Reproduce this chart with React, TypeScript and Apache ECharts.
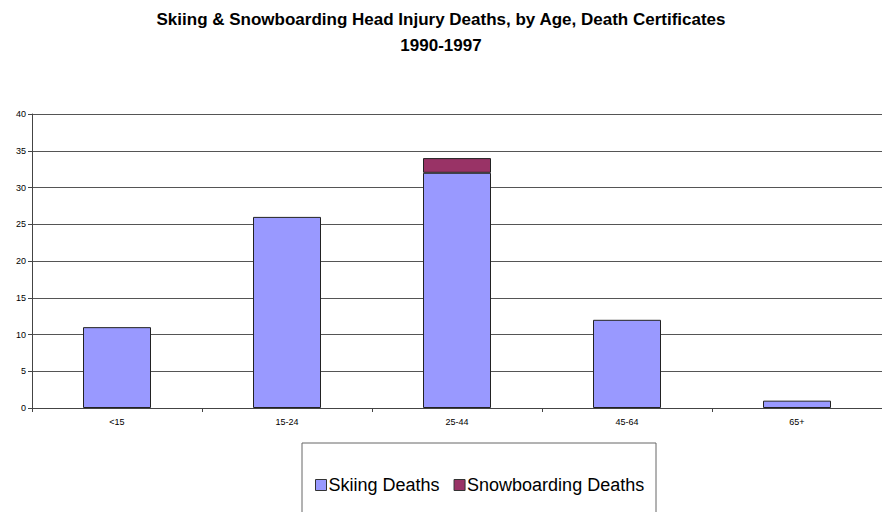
import React, { useEffect, useRef } from "react";
import * as echarts from "echarts";

const categories = ["<15", "15-24", "25-44", "45-64", "65+"];
const skiingDeaths = [11, 26, 32, 12, 1];
const snowboardingDeaths = [0, 0, 2, 0, 0];
const yTicks = { min: 0, max: 40, interval: 5 };

export default function App() {
  const ref = useRef<HTMLDivElement>(null);
  useEffect(() => {
    if (!ref.current) return;
    const chart = echarts.init(ref.current, null, { renderer: "svg" });
    chart.setOption({
      animation: false,
      backgroundColor: "#ffffff",
      title: {
        text: "Skiing & Snowboarding Head Injury Deaths, by Age, Death Certificates\n1990-1997",
        left: "center",
        top: 1,
        textStyle: {
          fontFamily: "Liberation Sans, Arial, sans-serif",
          fontSize: 17,
          fontWeight: "bold",
          color: "#000",
          lineHeight: 26,
        },
      },
      grid: { left: 32, top: 114, width: 850, height: 294 },
      xAxis: {
        type: "category",
        data: categories,
        axisLine: { lineStyle: { color: "#444", width: 1 } },
        axisTick: { show: true, alignWithLabel: false, length: 4, lineStyle: { color: "#444" } },
        axisLabel: { fontSize: 9, color: "#000", fontFamily: "Liberation Sans, Arial, sans-serif", margin: 9 },
      },
      yAxis: {
        type: "value",
        min: yTicks.min,
        max: yTicks.max,
        interval: yTicks.interval,
        axisLine: { show: true, lineStyle: { color: "#444", width: 1 } },
        axisTick: { show: true, length: 4, lineStyle: { color: "#444" } },
        axisLabel: { fontSize: 9, color: "#000", fontFamily: "Liberation Sans, Arial, sans-serif", margin: 6 },
        splitLine: { show: true, lineStyle: { color: "#555", width: 1.2 } },
      },
      legend: {
        left: 310,
        top: 471,
        itemWidth: 11,
        itemHeight: 11,
        itemGap: 14,
        icon: "rect",
        itemStyle: { borderColor: "#333", borderWidth: 1 },
        textStyle: { fontSize: 18, color: "#000", fontFamily: "Liberation Sans, Arial, sans-serif", padding: [0, 0, 0, -3] },
        data: ["Skiing Deaths", "Snowboarding Deaths"],
      },
      graphic: [
        {
          type: "rect",
          shape: { x: 302, y: 443, width: 354, height: 100 },
          style: { fill: "none", stroke: "#666", lineWidth: 1 },
          z: -1,
        },
      ],
      series: [
        {
          name: "Skiing Deaths",
          type: "bar",
          stack: "total",
          data: skiingDeaths,
          barWidth: "40%",
          itemStyle: { color: "#9999FF", borderColor: "#222", borderWidth: 1 },
        },
        {
          name: "Snowboarding Deaths",
          type: "bar",
          stack: "total",
          data: snowboardingDeaths.map((v) => (v === 0 ? null : v)),
          barWidth: "40%",
          itemStyle: { color: "#993366", borderColor: "#222", borderWidth: 1 },
        },
      ],
    });
    return () => chart.dispose();
  }, []);
  return <div ref={ref} style={{ position: "fixed", left: 0, top: 0, width: 882, height: 512 }} />;
}
